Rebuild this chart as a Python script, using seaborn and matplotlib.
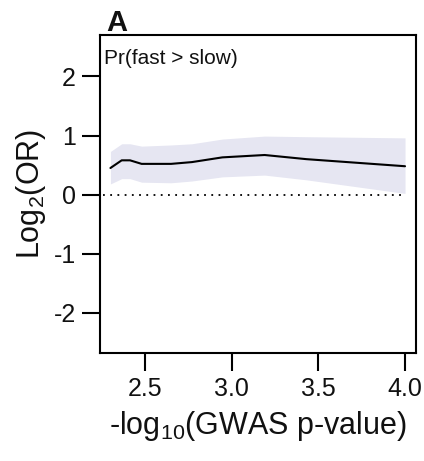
import numpy as np
import pandas as pd
import matplotlib
matplotlib.use("Agg")
import matplotlib.pyplot as plt
import seaborn as sns

# --- data ---
gwas_logp = [2.30, 2.365, 2.413, 2.48, 2.65, 2.77, 2.946, 3.19, 3.43, 4.00]
log2_or = [0.45, 0.58, 0.58, 0.52, 0.52, 0.55, 0.63, 0.67, 0.60, 0.48]
ci_upper = [0.73, 0.86, 0.86, 0.82, 0.84, 0.86, 0.94, 0.99, 0.98, 0.96]
ci_lower = [0.18, 0.27, 0.27, 0.21, 0.20, 0.23, 0.30, 0.33, 0.25, 0.02]

x_ticks = [2.5, 3.0, 3.5, 4.0]
y_ticks = [-2, -1, 0, 1, 2]

df = pd.DataFrame({"x": gwas_logp, "y": log2_or, "lo": ci_lower, "hi": ci_upper})

# --- style ---
sns.set_style("ticks")
plt.rcParams["font.family"] = ["Liberation Sans", "DejaVu Sans"]
plt.rcParams["mathtext.fontset"] = "custom"
plt.rcParams["mathtext.rm"] = "Liberation Sans"
plt.rcParams["mathtext.it"] = "Liberation Sans:italic"
plt.rcParams["text.color"] = "#111111"
plt.rcParams["axes.labelcolor"] = "#111111"

fig = plt.figure(figsize=(4.24, 4.61), dpi=100)
ax = fig.add_axes([0.2347, 0.2343, 0.7463, 0.6897])

# ribbon + line
ax.fill_between(df["x"], df["lo"], df["hi"], color="#e6e6f2", lw=0)
sns.lineplot(data=df, x="x", y="y", color="black", lw=1.5, ax=ax)
ax.axhline(0, xmin=0.01, xmax=0.97, color="black", lw=1.3, dashes=(1, 3))

ax.set_xlim(2.237, 4.063)
ax.set_ylim(-2.68, 2.70)
ax.set_xticks(x_ticks)
ax.set_xticklabels([f"{t:.1f}" for t in x_ticks])
ax.set_yticks(y_ticks)
ax.set_yticklabels([str(t) for t in y_ticks])

for s in ax.spines.values():
    s.set_linewidth(1.5)
    s.set_color("black")
ax.tick_params(axis="both", length=13, width=1.5, pad=4, labelsize=18,
               color="black", labelcolor="#111111")

ax.set_xlabel(r"-log$_{10}$(GWAS p-value)", fontsize=22, labelpad=6)
ax.set_ylabel(r"Log$_{2}$(OR)", fontsize=22, labelpad=4)

ax.text(0.014, 0.956, "Pr(fast > slow)", transform=ax.transAxes,
        fontsize=15, va="top", ha="left")
fig.text(0.25, 0.933, "A", fontsize=21, fontweight="bold", ha="left", va="baseline")

fig.savefig("out.png", dpi=100)
